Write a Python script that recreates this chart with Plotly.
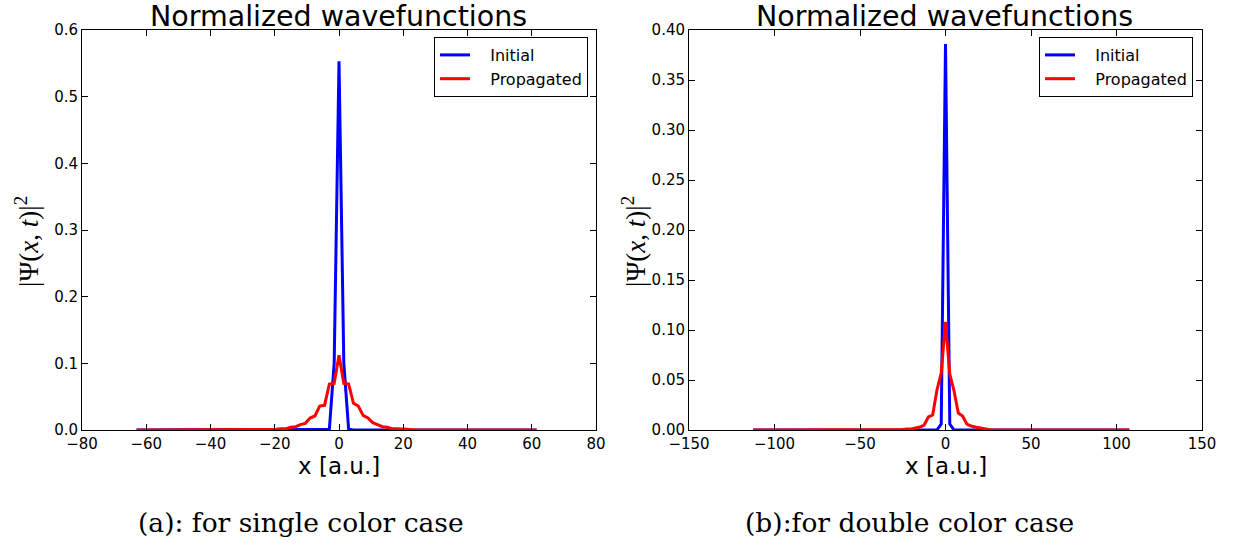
import plotly.graph_objects as go

# ---------------- data ----------------
# (a) single color case, grid spacing 1.5 a.u.
a_init_x = [-63.0, -4.5, -3.0, -1.5, 0.0, 1.5, 3.0, 4.5, 61.5]
a_init_y = [0.0, 0.0, 0.001, 0.100, 0.553, 0.100, 0.001, 0.0, 0.0]

a_prop_x = [-63.0, -24.0, -22.5, -21.0, -19.5, -18.0, -16.5, -15.0, -13.5, -12.0, -10.5,
            -9.0, -7.5, -6.0, -4.5, -3.0, -1.5, 0.0, 1.5, 3.0, 4.5, 6.0, 7.5, 9.0,
            10.5, 12.0, 13.5, 15.0, 16.5, 18.0, 19.5, 21.0, 22.5, 24.0, 61.5]
a_prop_y = [0.0, 0.0, 0.0005, 0.001, 0.001, 0.002, 0.002, 0.004, 0.005, 0.008, 0.010,
            0.018, 0.021, 0.036, 0.037, 0.069, 0.070, 0.112, 0.070, 0.069, 0.040, 0.036,
            0.022, 0.018, 0.011, 0.008, 0.005, 0.004, 0.002, 0.002, 0.001, 0.001, 0.0005, 0.0, 0.0]

# (b) double color case, grid spacing 2.5 a.u.
b_init_x = [-112.5, -5.0, -2.5, 0.0, 2.5, 5.0, 107.5]
b_init_y = [0.0, 0.0, 0.006, 0.386, 0.006, 0.0, 0.0]

b_prop_x = [-112.5, -27.5, -25.0, -22.5, -20.0, -17.5, -15.0, -12.5, -10.0, -7.5, -5.0, -2.5,
            0.0, 2.5, 5.0, 7.5, 10.0, 12.5, 15.0, 17.5, 20.0, 22.5, 25.0, 27.5, 107.5]
b_prop_y = [0.0, 0.0, 0.0005, 0.001, 0.001, 0.002, 0.003, 0.005, 0.013, 0.015, 0.040, 0.057,
            0.108, 0.056, 0.039, 0.017, 0.014, 0.006, 0.004, 0.003, 0.002, 0.001, 0.0005, 0.0, 0.0]

a_xticks = [-80, -60, -40, -20, 0, 20, 40, 60, 80]
a_yticks = [0.0, 0.1, 0.2, 0.3, 0.4, 0.5, 0.6]
b_xticks = [-150, -100, -50, 0, 50, 100, 150]
b_yticks = [0.00, 0.05, 0.10, 0.15, 0.20, 0.25, 0.30, 0.35, 0.40]

panel_title = "Normalized wavefunctions"
x_label = "x [a.u.]"
y_label = "|Ψ(<i>x</i>, <i>t</i>)|<sup>2</sup>"
captions = ["(a): for single color case", "(b):for double color case"]
legend_names = ["Initial", "Propagated"]

# ---------------- layout geometry (pixels) ----------------
W, H = 1233, 547
ax_a = (82, 596)
ax_b = (689, 1202)
ax_top, ax_bot = 30, 430
cap_centers = [301, 909]

def px(x):
    return x / W

def py(y):
    return (H - y) / H

BLUE = "#0000ff"
RED = "#ff0000"
LW = 3
PAD = "\u00a0\u00a0\u00a0"

fig = go.Figure()
fig.add_trace(go.Scatter(x=a_init_x, y=a_init_y, mode="lines", name=PAD + legend_names[0],
                         line=dict(color=BLUE, width=LW), xaxis="x", yaxis="y", legend="legend"))
fig.add_trace(go.Scatter(x=a_prop_x, y=a_prop_y, mode="lines", name=PAD + legend_names[1],
                         line=dict(color=RED, width=LW), xaxis="x", yaxis="y", legend="legend"))
fig.add_trace(go.Scatter(x=b_init_x, y=b_init_y, mode="lines", name=PAD + legend_names[0],
                         line=dict(color=BLUE, width=LW), xaxis="x2", yaxis="y2", legend="legend2"))
fig.add_trace(go.Scatter(x=b_prop_x, y=b_prop_y, mode="lines", name=PAD + legend_names[1],
                         line=dict(color=RED, width=LW), xaxis="x2", yaxis="y2", legend="legend2"))

tickfont = dict(family="DejaVu Sans", size=15, color="black")
axis_common = dict(showline=True, linecolor="black", linewidth=1, mirror="ticks",
                   ticks="inside", ticklen=6, tickwidth=1, tickcolor="black",
                   showgrid=False, zeroline=False, tickfont=tickfont, automargin=False)

legend_common = dict(xanchor="right", yanchor="top", bordercolor="black", borderwidth=1,
                     bgcolor="white", tracegroupgap=0,
                     font=dict(family="DejaVu Sans", size=16, color="black"))

ydom = [py(ax_bot), py(ax_top)]
fig.update_layout(
    width=W, height=H,
    margin=dict(l=0, r=0, t=0, b=0, pad=0, autoexpand=False),
    paper_bgcolor="white", plot_bgcolor="white",
    xaxis=dict(domain=[px(ax_a[0]), px(ax_a[1])], range=[-80, 80], tickvals=a_xticks,
               anchor="y", **axis_common),
    yaxis=dict(domain=ydom, range=[0, 0.6], tickvals=a_yticks, tickformat=".1f",
               anchor="x", **axis_common),
    xaxis2=dict(domain=[px(ax_b[0]), px(ax_b[1])], range=[-150, 150], tickvals=b_xticks,
                anchor="y2", **axis_common),
    yaxis2=dict(domain=ydom, range=[0, 0.40], tickvals=b_yticks, tickformat=".2f",
                anchor="x2", **axis_common),
    legend=dict(x=px(588), y=py(37), **legend_common),
    legend2=dict(x=px(1193), y=py(37), **legend_common),
    showlegend=True,
)

annots = []
for (l, r), cap, ccx in zip([ax_a, ax_b], captions, cap_centers):
    cx = (l + r) / 2
    annots.append(dict(text=panel_title, x=px(cx - 1), y=py(16), xref="paper", yref="paper",
                       xanchor="center", yanchor="middle", showarrow=False,
                       font=dict(family="DejaVu Sans", size=28.5, color="black")))
    annots.append(dict(text=x_label, x=px(cx), y=py(466), xref="paper", yref="paper",
                       xanchor="center", yanchor="middle", showarrow=False,
                       font=dict(family="DejaVu Sans", size=23, color="black")))
    annots.append(dict(text=y_label, x=px(l - 55), y=py(242), xref="paper", yref="paper",
                       xanchor="center", yanchor="middle", showarrow=False, textangle=-90,
                       font=dict(family="Liberation Serif", size=27, color="black")))
    annots.append(dict(text=cap, x=px(ccx), y=py(522),
                       xref="paper", yref="paper", xanchor="center", yanchor="middle",
                       showarrow=False,
                       font=dict(family="DejaVu Serif", size=26.5, color="black")))
fig.update_layout(annotations=annots)

fig.write_html("out.html")
